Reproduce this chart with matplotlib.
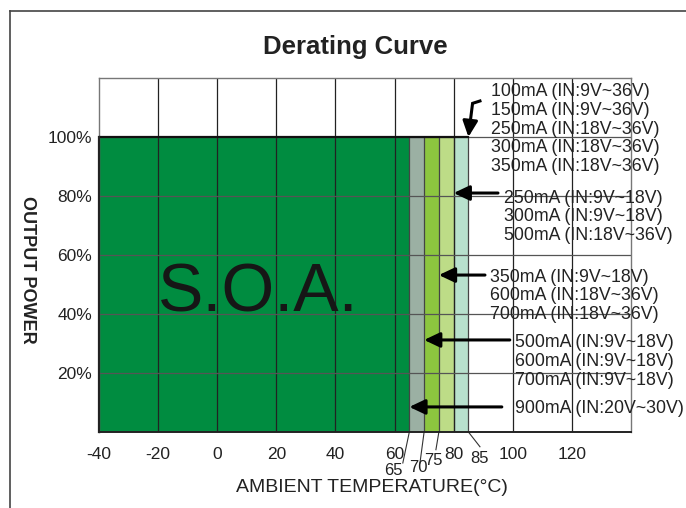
import numpy as np
import matplotlib
matplotlib.use('Agg')
import matplotlib.pyplot as plt

plt.rcParams['font.family'] = ['Liberation Sans', 'DejaVu Sans']

# Derating zones: full power up to each limit temperature
zone_edges = [-40, 65, 70, 75, 80, 85]
zone_power = [100, 100, 100, 100, 100]
zone_colors = ['#008c40', '#9bb0a3', '#8cc63f', '#bddc87', '#b8e1cd']

x_ticks = [-40, -20, 0, 20, 40, 60, 80, 100, 120]
y_ticks = [20, 40, 60, 80, 100]
y_tick_labels = ['20%', '40%', '60%', '80%', '100%']

# extra temperature marks under the axis (drawn with leader lines)
extra_temps = [65, 70, 75, 85]

# label groups on the right, top to bottom
group_labels = [
    ['100mA (IN:9V~36V)', '150mA (IN:9V~36V)', '250mA (IN:18V~36V)',
     '300mA (IN:18V~36V)', '350mA (IN:18V~36V)'],
    ['250mA (IN:9V~18V)', '300mA (IN:9V~18V)', '500mA (IN:18V~36V)'],
    ['350mA (IN:9V~18V)', '600mA (IN:18V~36V)', '700mA (IN:18V~36V)'],
    ['500mA (IN:9V~18V)', '600mA (IN:9V~18V)', '700mA (IN:9V~18V)'],
    ['900mA (IN:20V~30V)'],
]
# zone each group points at (limit temperature)
group_limits = [85, 80, 75, 70, 65]

fig = plt.figure(figsize=(6.86, 5.08), dpi=100)
ax = fig.add_axes([0.1443, 0.1496, 0.7755, 0.6969])
ax.set_xlim(-40, 140)
ax.set_ylim(0, 120)

# zones
for i in range(len(zone_power)):
    ax.fill_between([zone_edges[i], zone_edges[i + 1]], 0, zone_power[i],
                    color=zone_colors[i], lw=0, zorder=1)
    ax.plot([zone_edges[i + 1]] * 2, [0, zone_power[i]], color='#444444', lw=0.9, zorder=2)

# grid
for x in x_ticks[1:]:
    ax.axvline(x, color='#222222', lw=0.9, zorder=2)
for y in [20, 40, 60, 80, 100]:
    ax.axhline(y, color='#555555', lw=0.9, zorder=2)
ax.plot([-40, 85], [100, 100], color='#111111', lw=1.6, zorder=3)
for s in ax.spines.values():
    s.set_color('#777777')
    s.set_linewidth(1.0)
ax.spines['bottom'].set_color('#222222')
ax.spines['bottom'].set_linewidth(1.4)
ax.plot([-40, -40], [0, 100], color='#222222', lw=1.6, zorder=3, clip_on=False)

ax.set_xticks(x_ticks)
ax.set_xticklabels([str(v) for v in x_ticks])
ax.set_yticks(y_ticks)
ax.set_yticklabels(y_tick_labels)
ax.tick_params(length=0, labelsize=12.5, colors='#222222')
ax.tick_params(axis='x', pad=11)
ax.tick_params(axis='y', pad=5)

ax.text(13.8, 47, 'S.O.A.', fontsize=49, color='#161616', ha='center', va='center', zorder=4)

# extra temperature labels with leader lines
leader_end = {65: (62.8, -10.5), 70: (68.6, -10.5), 75: (74.0, -6.0), 85: (88.9, -5.0)}
label_pos = {65: (59.5, -13.0), 70: (67.9, -11.9), 75: (73.3, -9.6), 85: (88.9, -9.0)}
for t in extra_temps:
    ex, ey = leader_end[t]
    ax.plot([t, ex], [0, ey], color='#333333', lw=0.8, clip_on=False)
    lx, ly = label_pos[t]
    ax.text(lx, ly, str(t), fontsize=12, color='#222222', ha='center', va='center', clip_on=False)

# right-hand labels
text_x = [92.6, 97.0, 92.3, 100.7, 100.7]
text_y0 = [115.3, 79.3, 52.5, 30.2, 7.8]
line_step = 6.3
for g, labels in enumerate(group_labels):
    for k, s in enumerate(labels):
        ax.text(text_x[g], text_y0[g] - k * line_step, s, fontsize=12.8, color='#222222',
                ha='left', va='center', clip_on=False, zorder=5)

# arrows
head = dict(arrowstyle='-|>,head_length=0.95,head_width=0.45', mutation_scale=10,
            lw=2.2, color='black', shrinkA=0, shrinkB=0)
arrow_start = [None, (95.0, 81.0), (90.6, 53.2), (99.0, 31.2), (96.3, 8.5)]
arrow_y = [None, 81.0, 53.2, 31.2, 8.5]
for g in range(1, 5):
    ax.annotate('', xy=(group_limits[g], arrow_y[g]), xytext=arrow_start[g],
                arrowprops=head, annotation_clip=False, zorder=6)
# bent arrow for first group
ax.plot([88.9, 86.4, 85.6], [112.2, 111.4, 105], color='black', lw=2.2,
        solid_joinstyle='miter', clip_on=False, zorder=6)
ax.annotate('', xy=(group_limits[0], 100), xytext=(85.6, 105.5),
            arrowprops=head, annotation_clip=False, zorder=6)

fig.text(0.5175, 0.9075, 'Derating Curve', fontsize=18.5, fontweight='bold',
         color='#222222', ha='center', va='center')
fig.text(0.0408, 0.4685, 'OUTPUT POWER', fontsize=13, fontweight='bold',
         color='#222222', ha='center', va='center', rotation=-90)
fig.text(0.5423, 0.0413, 'AMBIENT TEMPERATURE(°C)', fontsize=14,
         color='#222222', ha='center', va='center')

# outer frame
fig.add_artist(plt.Line2D([0.0146, 0.0146], [0, 0.978], color='#444444', lw=1.2))
fig.add_artist(plt.Line2D([0.0146, 1.0], [0.978, 0.978], color='#444444', lw=1.2))

fig.savefig('out.png', dpi=100)
